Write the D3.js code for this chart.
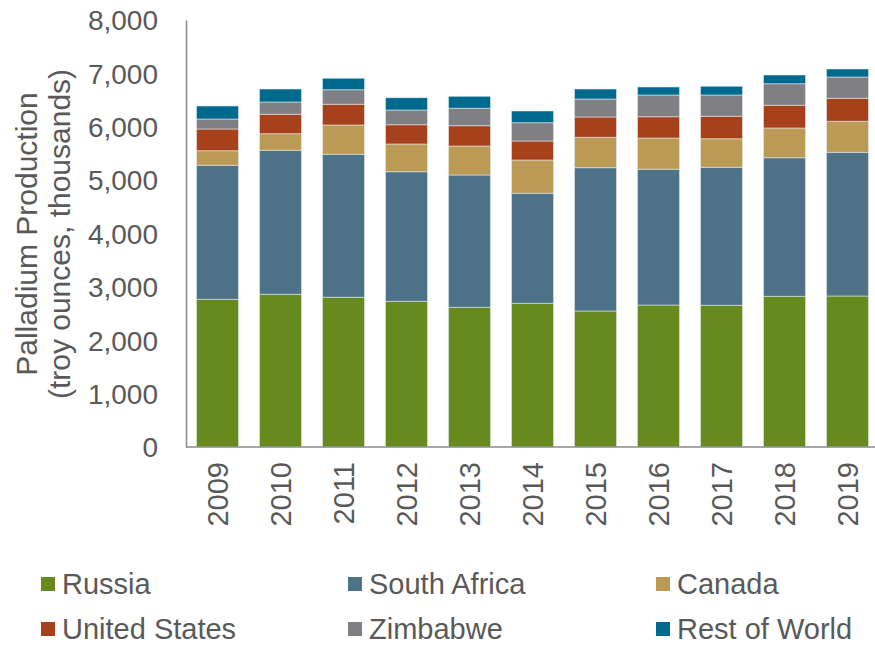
<!DOCTYPE html>
<html>
<head>
<meta charset="utf-8">
<script src="https://cdn.jsdelivr.net/npm/d3@7"></script>
<style>
  html, body { margin: 0; padding: 0; background: #fff; }
  svg { display: block; }
  text { font-family: "Liberation Sans", Arial, sans-serif; fill: #595959; }
</style>
</head>
<body>
<svg id="chart" width="875" height="645"></svg>
<script>
const years = ["2009","2010","2011","2012","2013","2014","2015","2016","2017","2018","2019"];
const seriesNames = ["Russia","South Africa","Canada","United States","Zimbabwe","Rest of World"];
const seriesColors = ["#668a1e","#4e7389","#bb9a56","#a6411c","#808084","#006a8e"];
const russia       = [2767, 2861, 2805, 2730, 2617, 2692, 2548, 2660, 2655, 2823, 2829];
const southAfrica  = [2511, 2698, 2679, 2428, 2479, 2061, 2685, 2543, 2585, 2597, 2692];
const canada       = [ 273,  311,  549,  519,  543,  624,  569,  586,  536,  557,  581];
const unitedStates = [ 407,  363,  388,  361,  381,  356,  381,  399,  420,  425,  431];
const zimbabwe     = [ 187,  231,  273,  276,  326,  343,  337,  407,  399,  404,  399];
const restOfWorld  = [ 244,  243,  214,  230,  224,  219,  187,  150,  163,  164,  150];
const yTicks = [0, 1000, 2000, 3000, 4000, 5000, 6000, 7000, 8000];
const yTitle = ["Palladium Production", "(troy ounces, thousands)"];

const seriesValues = [russia, southAfrica, canada, unitedStates, zimbabwe, restOfWorld];
const table = years.map((y, i) => {
  const row = { year: y };
  seriesNames.forEach((s, j) => { row[s] = seriesValues[j][i]; });
  return row;
});

const svg = d3.select("#chart");
const x = d3.scaleBand().domain(years).range([186, 879]).paddingInner(1/3).paddingOuter(1/6);
const y = d3.scaleLinear().domain([0, 8000]).range([447, 20]);
const color = d3.scaleOrdinal().domain(seriesNames).range(seriesColors);

const stack = d3.stack().keys(seriesNames)(table);

svg.append("g").selectAll("g").data(stack).join("g")
  .attr("fill", d => color(d.key))
  .selectAll("rect").data(d => d).join("rect")
  .attr("x", d => x(d.data.year))
  .attr("width", x.bandwidth())
  .attr("y", d => y(d[1]))
  .attr("height", d => y(d[0]) - y(d[1]))
  .attr("stroke", "rgba(230,236,240,0.55)")
  .attr("stroke-width", 1);

// Y axis
const yAxis = d3.axisLeft(y).tickValues(yTicks).tickSize(0).tickPadding(0)
  .tickFormat(d3.format(","));
const yg = svg.append("g").attr("transform", "translate(186,0)").call(yAxis);
yg.select(".domain").attr("stroke", "#8a8a8a").attr("stroke-width", 1.5);
yg.selectAll("text").attr("x", -28).attr("dy", "0.35em")
  .style("font-size", "28px").attr("fill", "#595959").style("font-family", "'Liberation Sans', Arial, sans-serif");

// X axis
const xAxis = d3.axisBottom(x).tickSize(0).tickPadding(0);
const xg = svg.append("g").attr("transform", "translate(0,447)").call(xAxis);
xg.select(".domain").attr("stroke", "#8a8a8a").attr("stroke-width", 1.5)
  .attr("d", "M186,0H879");
xg.selectAll("text")
  .attr("transform", "rotate(-90)")
  .attr("x", -15).attr("y", 0).attr("dy", "0.35em")
  .attr("text-anchor", "end")
  .style("font-size", "29px").attr("fill", "#595959").style("font-family", "'Liberation Sans', Arial, sans-serif");

// Y title
const ty = svg.append("text")
  .attr("transform", "translate(0,234) rotate(-90)")
  .attr("text-anchor", "middle")
  .style("font-size", "30px");
ty.append("tspan").attr("x", 0).attr("y", 37).text(yTitle[0]);
ty.append("tspan").attr("x", 0).attr("y", 70).text(yTitle[1]);

// Legend
const legendPos = [[41,584],[348,584],[656,584],[41,629],[348,629],[656,629]];
const lg = svg.append("g").selectAll("g").data(seriesNames).join("g")
  .attr("transform", (d, i) => `translate(${legendPos[i][0]},${legendPos[i][1]})`);
lg.append("rect").attr("x", 0).attr("y", -7).attr("width", 14).attr("height", 14)
  .attr("fill", d => color(d));
lg.append("text").attr("x", 21).attr("y", 0).attr("dy", "0.35em")
  .style("font-size", "29px").text(d => d);
</script>
</body>
</html>
